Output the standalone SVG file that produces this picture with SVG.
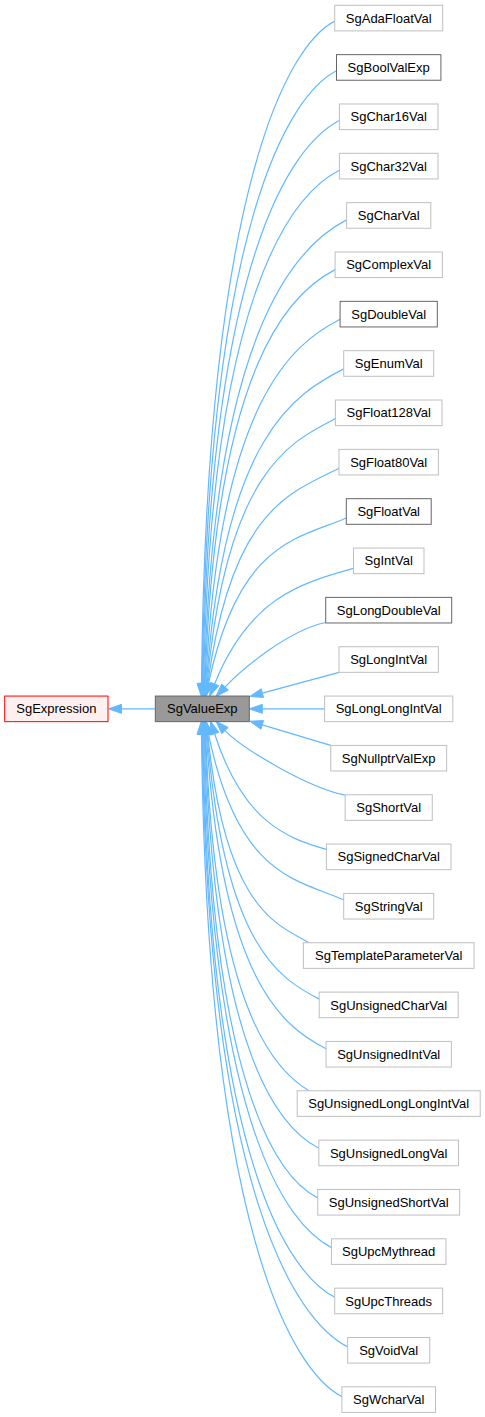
<svg xmlns="http://www.w3.org/2000/svg" width="485" height="1417" viewBox="0 0 485 1417">
<style>
.e{fill:none;stroke:#63b8ff;stroke-width:1.2}
.a{fill:#63b8ff;stroke:#63b8ff;stroke-width:1}
.n{fill:#ffffff;stroke:#bfbfbf;stroke-width:1}
.d{fill:#ffffff;stroke:#666666;stroke-width:1}
.cur{fill:#999999;stroke:#666666;stroke-width:1}
.red{fill:#fff0f0;stroke:#ff0000;stroke-width:1}
text{font-family:"Liberation Sans",Arial,Helvetica,sans-serif;font-size:13px;fill:#000000;text-anchor:middle}
</style>
<rect width="485" height="1417" fill="#ffffff"/>
<g id="edges">
<path class="e" d="M155.3,708.86 L121.5,708.86"/>
<polygon class="a" points="121.5,704.36 108.5,708.86 121.5,713.36"/>
<path class="e" d="M201.5,683.5 C206.8,186.2 288.1,45.1 334.7,21.1"/>
<polygon class="a" points="197,683.4 201.4,696.5 206,683.6"/>
<path class="e" d="M202.2,683.5 C207.8,221.7 289.5,95 336.5,70.8"/>
<polygon class="a" points="197.7,683.4 202,696.5 206.7,683.6"/>
<path class="e" d="M202.9,683.5 C209.3,257.2 291.6,145.1 339.4,120.5"/>
<polygon class="a" points="198.4,683.4 202.7,696.5 207.4,683.6"/>
<path class="e" d="M203.6,683.5 C211.2,292.7 291.9,194.6 339.4,170.2"/>
<polygon class="a" points="199.1,683.4 203.35,696.5 208.1,683.6"/>
<path class="e" d="M204.3,683.5 C214,328.3 296.8,245.5 346.6,219.9"/>
<polygon class="a" points="199.8,683.4 203.95,696.5 208.8,683.6"/>
<path class="e" d="M205,683.5 C216,363.8 289.6,293 335.1,269.6"/>
<polygon class="a" points="200.5,683.35 204.55,696.5 209.5,683.65"/>
<path class="e" d="M205.7,683.5 C219.7,399.3 293.1,343.4 340.1,319.2"/>
<polygon class="a" points="201.2,683.3 205.05,696.5 210.2,683.7"/>
<path class="e" d="M206.4,683.5 C223.9,434.8 295.6,393.6 343.7,368.9"/>
<polygon class="a" points="201.9,683.2 205.5,696.45 210.9,683.8"/>
<path class="e" d="M207.1,683.5 C226.9,470.4 290.5,441.7 335.4,418.6"/>
<polygon class="a" points="202.6,683.1 205.9,696.4 211.6,683.9"/>
<path class="e" d="M207.8,683.5 C232,505.9 293.1,491.9 339,468.3"/>
<polygon class="a" points="203.3,682.9 206,696.4 212.3,684.1"/>
<path class="e" d="M208.5,683.5 C238.6,541.4 298.1,538.7 346.3,518"/>
<polygon class="a" points="204.1,682.6 205.75,696.2 212.9,684.4"/>
<path class="e" d="M214.6,684 C250.2,595.2 304.9,582.2 353.5,568.3"/>
<polygon class="a" points="210.4,682.3 209.8,696.1 218.8,685.7"/>
<path class="e" d="M225,687.1 C242.3,669.1 287.7,630.5 325.7,622.5"/>
<polygon class="a" points="221.7,684 216,696.5 228.3,690.2"/>
<path class="e" d="M262.35,693.1 L339,672.3"/>
<polygon class="a" points="261.2,688.8 249.8,696.5 263.5,697.4"/>
<path class="e" d="M262.3,708.86 L324.6,708.86"/>
<polygon class="a" points="262.3,704.36 249.3,708.86 262.3,713.36"/>
<path class="e" d="M262.25,724.9 L330.75,745.4"/>
<polygon class="a" points="263.5,720.6 249.8,721.2 261,729.2"/>
<path class="e" d="M225,730.6 C242.3,748.6 307.2,787.2 345.2,795.2"/>
<polygon class="a" points="221.8,733.7 216,721.2 228.2,727.5"/>
<path class="e" d="M214.6,733.7 C243.2,822.5 287.3,838.2 326.4,849.4"/>
<polygon class="a" points="210.3,735.1 210.6,721.3 218.9,732.3"/>
<path class="e" d="M208.5,734.2 C238,876.3 296.4,879.5 343.7,899.7"/>
<polygon class="a" points="204.1,735.1 205.75,721.5 212.9,733.3"/>
<path class="e" d="M207.8,734.2 C225.4,911.8 279,924.8 309,942.8"/>
<polygon class="a" points="203.3,734.8 206,721.3 212.3,733.6"/>
<path class="e" d="M207.1,734.2 C224.4,947.3 280,978.9 319.2,999.1"/>
<polygon class="a" points="202.6,734.6 205.9,721.3 211.6,733.8"/>
<path class="e" d="M206.4,734.2 C221.6,982.9 284.2,1027.3 326.1,1048.8"/>
<polygon class="a" points="201.9,734.5 205.5,721.25 210.9,733.9"/>
<path class="e" d="M205.7,734.2 C215.2,1018.4 279,1072.8 309,1090.8"/>
<polygon class="a" points="201.2,734.4 205.05,721.2 210.2,734"/>
<path class="e" d="M205,734.2 C214.6,1053.9 279.1,1127.7 318.9,1148.2"/>
<polygon class="a" points="200.5,734.35 204.55,721.2 209.5,734.05"/>
<path class="e" d="M204.3,734.2 C212.1,1089.4 278.1,1177.5 317.8,1197.9"/>
<polygon class="a" points="199.8,734.3 203.95,721.2 208.8,734.1"/>
<path class="e" d="M203.6,734.2 C210.7,1125 286.8,1224.6 331.5,1247.6"/>
<polygon class="a" points="199.1,734.3 203.35,721.2 208.1,734.1"/>
<path class="e" d="M202.9,734.2 C209.1,1160.5 288.6,1273.5 334.7,1297.2"/>
<polygon class="a" points="198.4,734.3 202.7,721.2 207.4,734.1"/>
<path class="e" d="M202.2,734.2 C208.3,1196 296.8,1320.7 347.7,1346.9"/>
<polygon class="a" points="197.7,734.3 202,721.2 206.7,734.1"/>
<path class="e" d="M201.5,734.2 C207.1,1231.5 292.8,1371.3 341.9,1396.6"/>
<polygon class="a" points="197,734.3 201.4,721.2 206,734.1"/>
</g>
<g id="node-SgExpression"><rect class="red" x="4.7" y="696.06" width="103.3" height="25.6"/><text x="56.35" y="713.46">SgExpression</text></g>
<g id="node-SgValueExp"><rect class="cur" x="155.3" y="696.06" width="94" height="25.6"/><text x="202.3" y="713.46">SgValueExp</text></g>
<g id="node-SgAdaFloatVal"><rect class="n" x="334.7" y="5.3" width="108" height="25.6"/><text x="388.7" y="22.7">SgAdaFloatVal</text></g>
<g id="node-SgBoolValExp"><rect class="d" x="336.5" y="54.64" width="104.4" height="25.6"/><text x="388.7" y="72.04">SgBoolValExp</text></g>
<g id="node-SgChar16Val"><rect class="n" x="339.4" y="103.98" width="98.6" height="25.6"/><text x="388.7" y="121.38">SgChar16Val</text></g>
<g id="node-SgChar32Val"><rect class="n" x="339.4" y="153.32" width="98.6" height="25.6"/><text x="388.7" y="170.72">SgChar32Val</text></g>
<g id="node-SgCharVal"><rect class="n" x="346.6" y="202.66" width="84.2" height="25.6"/><text x="388.7" y="220.06">SgCharVal</text></g>
<g id="node-SgComplexVal"><rect class="n" x="335.1" y="252" width="107.3" height="25.6"/><text x="388.7" y="269.4">SgComplexVal</text></g>
<g id="node-SgDoubleVal"><rect class="d" x="340.1" y="301.34" width="97.2" height="25.6"/><text x="388.7" y="318.74">SgDoubleVal</text></g>
<g id="node-SgEnumVal"><rect class="n" x="343.7" y="350.68" width="90" height="25.6"/><text x="388.7" y="368.08">SgEnumVal</text></g>
<g id="node-SgFloat128Val"><rect class="n" x="335.4" y="400.02" width="106.6" height="25.6"/><text x="388.7" y="417.42">SgFloat128Val</text></g>
<g id="node-SgFloat80Val"><rect class="n" x="339" y="449.36" width="99.4" height="25.6"/><text x="388.7" y="466.76">SgFloat80Val</text></g>
<g id="node-SgFloatVal"><rect class="d" x="346.3" y="498.7" width="84.9" height="25.6"/><text x="388.7" y="516.1">SgFloatVal</text></g>
<g id="node-SgIntVal"><rect class="n" x="353.5" y="548.04" width="70.5" height="25.6"/><text x="388.7" y="565.44">SgIntVal</text></g>
<g id="node-SgLongDoubleVal"><rect class="d" x="325.7" y="597.38" width="126" height="25.6"/><text x="388.7" y="614.78">SgLongDoubleVal</text></g>
<g id="node-SgLongIntVal"><rect class="n" x="339" y="646.72" width="99.4" height="25.6"/><text x="388.7" y="664.12">SgLongIntVal</text></g>
<g id="node-SgLongLongIntVal"><rect class="n" x="324.6" y="696.06" width="128.2" height="25.6"/><text x="388.7" y="713.46">SgLongLongIntVal</text></g>
<g id="node-SgNullptrValExp"><rect class="n" x="330.75" y="745.4" width="115.9" height="25.6"/><text x="388.7" y="762.8">SgNullptrValExp</text></g>
<g id="node-SgShortVal"><rect class="n" x="345.15" y="794.74" width="87.1" height="25.6"/><text x="388.7" y="812.14">SgShortVal</text></g>
<g id="node-SgSignedCharVal"><rect class="n" x="326.4" y="844.08" width="124.6" height="25.6"/><text x="388.7" y="861.48">SgSignedCharVal</text></g>
<g id="node-SgStringVal"><rect class="n" x="343.7" y="893.42" width="90" height="25.6"/><text x="388.7" y="910.82">SgStringVal</text></g>
<g id="node-SgTemplateParameterVal"><rect class="n" x="303.35" y="942.76" width="170.7" height="25.6"/><text x="388.7" y="960.16">SgTemplateParameterVal</text></g>
<g id="node-SgUnsignedCharVal"><rect class="n" x="319.2" y="992.1" width="139" height="25.6"/><text x="388.7" y="1009.5">SgUnsignedCharVal</text></g>
<g id="node-SgUnsignedIntVal"><rect class="n" x="326.05" y="1041.44" width="125.3" height="25.6"/><text x="388.7" y="1058.84">SgUnsignedIntVal</text></g>
<g id="node-SgUnsignedLongLongIntVal"><rect class="n" x="297.2" y="1090.78" width="183" height="25.6"/><text x="388.7" y="1108.18">SgUnsignedLongLongIntVal</text></g>
<g id="node-SgUnsignedLongVal"><rect class="n" x="318.85" y="1140.12" width="139.7" height="25.6"/><text x="388.7" y="1157.52">SgUnsignedLongVal</text></g>
<g id="node-SgUnsignedShortVal"><rect class="n" x="317.75" y="1189.46" width="141.9" height="25.6"/><text x="388.7" y="1206.86">SgUnsignedShortVal</text></g>
<g id="node-SgUpcMythread"><rect class="n" x="331.45" y="1238.8" width="114.5" height="25.6"/><text x="388.7" y="1256.2">SgUpcMythread</text></g>
<g id="node-SgUpcThreads"><rect class="n" x="334.7" y="1288.14" width="108" height="25.6"/><text x="388.7" y="1305.54">SgUpcThreads</text></g>
<g id="node-SgVoidVal"><rect class="n" x="347.65" y="1337.48" width="82.1" height="25.6"/><text x="388.7" y="1354.88">SgVoidVal</text></g>
<g id="node-SgWcharVal"><rect class="n" x="341.9" y="1386.82" width="93.6" height="25.6"/><text x="388.7" y="1404.22">SgWcharVal</text></g>
</svg>
